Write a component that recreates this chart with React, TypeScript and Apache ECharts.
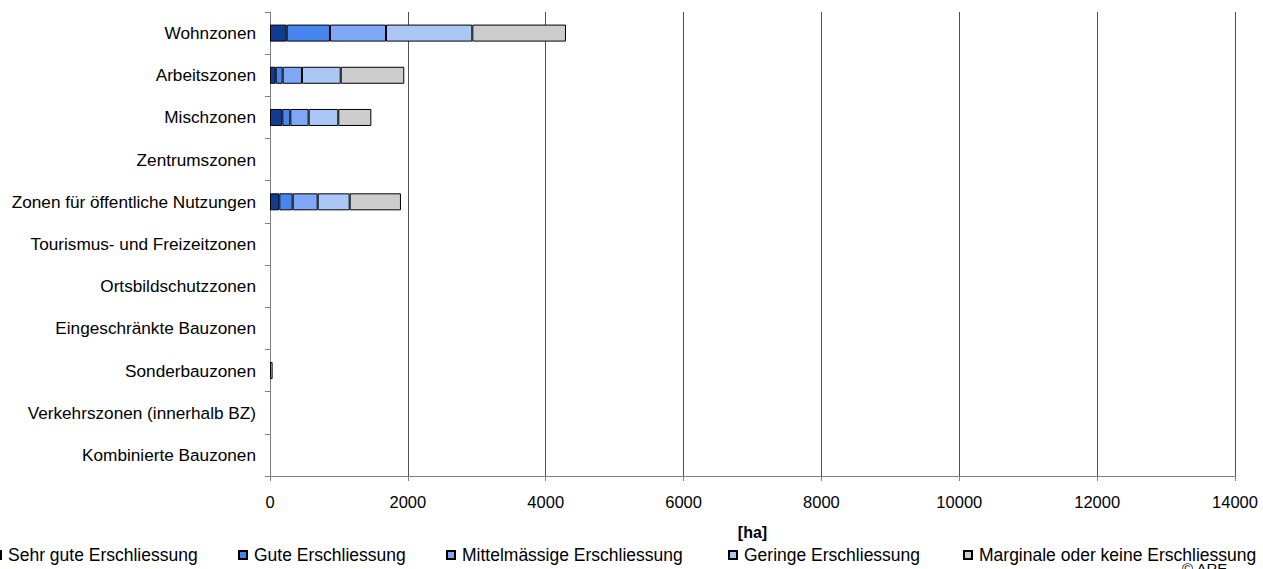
import React, { useEffect, useRef } from "react";
import * as echarts from "echarts";

const categories = [
  "Wohnzonen",
  "Arbeitszonen",
  "Mischzonen",
  "Zentrumszonen",
  "Zonen für öffentliche Nutzungen",
  "Tourismus- und Freizeitzonen",
  "Ortsbildschutzzonen",
  "Eingeschränkte Bauzonen",
  "Sonderbauzonen",
  "Verkehrszonen (innerhalb BZ)",
  "Kombinierte Bauzonen",
];

const seriesNames = [
  "Sehr gute Erschliessung",
  "Gute Erschliessung",
  "Mittelmässige Erschliessung",
  "Geringe Erschliessung",
  "Marginale oder keine Erschliessung",
];

const sehrGute = [242, 83, 179, 0, 135, 0, 0, 0, 0, 0, 0];
const gute = [628, 101, 116, 0, 194, 0, 0, 0, 0, 0, 0];
const mittel = [813, 280, 266, 0, 363, 0, 0, 0, 0, 0, 0];
const geringe = [1252, 562, 430, 0, 464, 0, 0, 0, 0, 0, 0];
const marginal = [1359, 922, 479, 0, 744, 0, 0, 0, 38, 0, 0];

const seriesValues = [sehrGute, gute, mittel, geringe, marginal];
const colors = ["#113C90", "#4886EF", "#7EA8F5", "#AAC7F5", "#CDCDCD"];
const legendLefts = [-8, 238, 446, 728, 963];

const FONT = "'Liberation Sans', Arial, sans-serif";

export default function App() {
  const ref = useRef<HTMLDivElement>(null);
  useEffect(() => {
    if (!ref.current) return;
    const chart = echarts.init(ref.current, undefined, { renderer: "svg" });
    chart.setOption({
      animation: false,
      textStyle: { fontFamily: FONT },
      grid: { left: 270, right: 28, top: 12, bottom: 93, containLabel: false },
      xAxis: {
        type: "value",
        min: 0,
        max: 14000,
        interval: 2000,
        name: "[ha]",
        nameLocation: "middle",
        nameGap: 48,
        nameTextStyle: { fontFamily: FONT, fontSize: 16, fontWeight: "bold", color: "#000" },
        axisLine: { show: true, lineStyle: { color: "#808080", width: 1 } },
        axisTick: { show: true, length: 5, lineStyle: { color: "#808080" } },
        axisLabel: {
          color: "#000",
          fontSize: 16.5,
          fontFamily: FONT,
          margin: 17,
          formatter: (v: number) => String(v),
        },
        splitLine: { show: true, lineStyle: { color: "#505050", width: 1 } },
      },
      yAxis: {
        type: "category",
        data: categories,
        inverse: true,
        axisLine: { show: true, lineStyle: { color: "#808080", width: 1 } },
        axisTick: { show: true, length: 5, inside: false, lineStyle: { color: "#808080" } },
        axisLabel: { color: "#000", fontSize: 17.2, fontFamily: FONT, margin: 14 },
        splitLine: { show: false },
      },
      legend: seriesNames.map((n, i) => ({
        data: [n],
        left: legendLefts[i],
        top: 546,
        padding: 0,
        itemWidth: 8,
        itemHeight: 8,
        itemGap: 5,
        icon: "rect",
        textStyle: { fontSize: 17.5, fontFamily: FONT, color: "#000", padding: [0, 0, 0, 2] },
        selectedMode: false,
      })),
      series: seriesNames.map((n, i) => ({
        name: n,
        type: "bar",
        stack: "total",
        data: seriesValues[i].map((v) => (v === 0 ? null : v)),
        barWidth: 17,
        itemStyle: { color: colors[i], borderColor: "#000", borderWidth: 1 },
      })),
      graphic: [
        {
          type: "text",
          left: 1182,
          top: 561,
          style: { text: "© ARE", fontSize: 15, fontFamily: FONT, fill: "#000" },
        },
      ],
    });
    return () => chart.dispose();
  }, []);
  return (
    <div
      ref={ref}
      style={{ position: "fixed", left: 0, top: 0, width: 1263, height: 569, background: "#fff" }}
    />
  );
}
